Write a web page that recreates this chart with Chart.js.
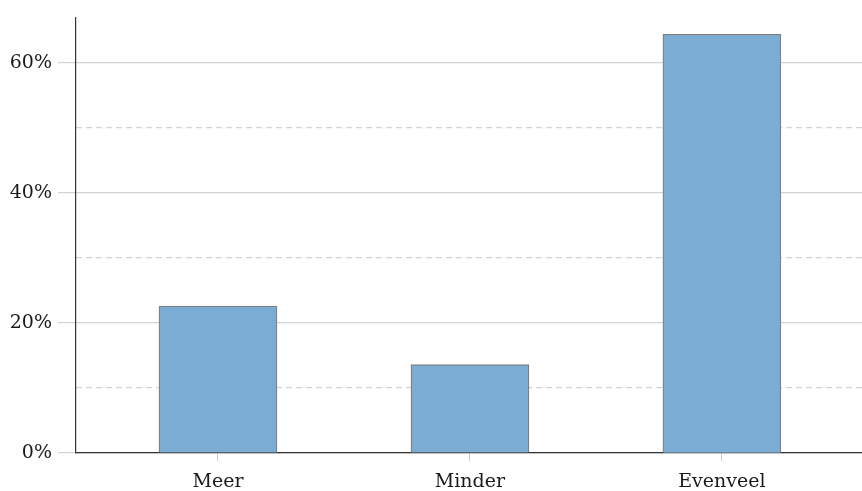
<!DOCTYPE html>
<html>
<head>
<meta charset="utf-8">
<script src="https://cdn.jsdelivr.net/npm/chart.js@4/dist/chart.umd.min.js"></script>
<style>
  html, body { margin: 0; padding: 0; background: #fff; }
  #wrap { width: 862px; height: 491px; }
</style>
</head>
<body>
<div id="wrap"><canvas id="barChart"></canvas></div>
<script>
const categories = ['Meer', 'Minder', 'Evenveel'];
const shares = [22.6, 13.6, 64.4];
const yTickValues = [0, 10, 20, 30, 40, 50, 60];

const points = shares.map((v, i) => ({x: i, y: v}));
const isMajor = v => v % 20 === 0;

const ctx = document.getElementById('barChart').getContext('2d');
new Chart(ctx, {
    type: 'bar',
    data: {
        datasets: [{
            data: points,
            backgroundColor: '#7aacd4',
            borderColor: '#7d7d7d',
            borderWidth: 1.2,
            barThickness: 118
        }]
    },
    options: {
        responsive: true,
        maintainAspectRatio: false,
        animation: false,
        layout: {padding: {top: 16, right: 0, left: 0, bottom: 0}},
        plugins: {
            legend: {display: false},
            tooltip: {enabled: false}
        },
        scales: {
            x: {
                type: 'linear',
                offset: false,
                min: -0.5635,
                max: 2.556,
                afterBuildTicks: scale => {
                    scale.ticks = categories.map((_, i) => ({value: i}));
                },
                afterFit: scale => { scale.height = 38; },
                ticks: {
                    callback: v => categories[v],
                    color: '#1a1a1a',
                    padding: 10,
                    maxRotation: 0,
                    font: {family: 'DejaVu Serif', size: 19}
                },
                grid: {
                    offset: false,
                    drawOnChartArea: false,
                    tickLength: 8,
                    tickColor: '#cccccc'
                },
                border: {display: true, color: '#333', width: 1.2}
            },
            y: {
                min: 0,
                max: 67,
                afterBuildTicks: scale => {
                    scale.ticks = yTickValues.map(v => ({value: v}));
                },
                afterFit: scale => { scale.width = 76; },
                ticks: {
                    callback: v => isMajor(v) ? v + '%' : '',
                    color: '#1a1a1a',
                    padding: 6,
                    font: {family: 'DejaVu Serif', size: 19}
                },
                grid: {
                    color: '#d2d2d2',
                    lineWidth: 1.2,
                    tickLength: 18,
                    tickColor: c => (c.tick && isMajor(c.tick.value)) ? '#d2d2d2' : 'rgba(0,0,0,0)'
                },
                border: {
                    display: true,
                    color: '#333',
                    width: 1.2,
                    dash: c => (c.tick && !isMajor(c.tick.value)) ? [6, 4] : []
                }
            }
        }
    }
});
</script>
</body>
</html>
